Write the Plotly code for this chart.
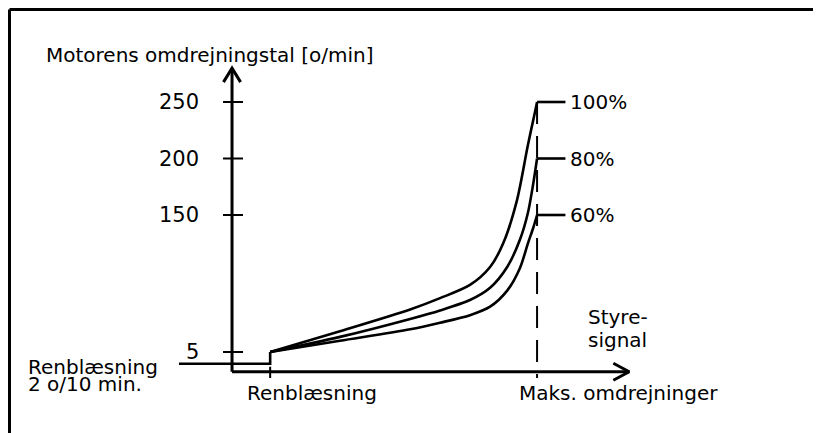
import numpy as np
import plotly.graph_objects as go

# ---------------- data ----------------
levels = ["100%", "80%", "60%"]
level_max_rpm = [250, 200, 150]

signal_100 = [12.5, 35.4, 58.4, 68.2, 78.0, 84.6, 88.9, 93.4, 97.0, 99.3, 100.0]
rpm_100 = [5, 27, 50, 62, 76, 95, 120, 163, 212, 241, 250]

signal_80 = [12.5, 35.4, 58.4, 68.2, 78.0, 84.6, 90.2, 94.4, 97.0, 98.7, 100.0]
rpm_80 = [5, 21, 40, 49, 60, 73, 95, 124, 152, 177, 200]

signal_60 = [12.5, 35.4, 58.4, 68.2, 78.0, 84.6, 90.2, 94.4, 97.0, 98.7, 100.0]
rpm_60 = [5, 17, 29, 36, 44, 53, 70, 94, 120, 136, 150]

y_tick_vals = [5, 150, 200, 250]
y_tick_text = ["5", "150", "200", "250"]

purge_signal = 12.5      # "Renblæsning" position on the control-signal axis
purge_rpm = 2            # 2 o/10 min
purge_label_start = -17.4
max_signal = 100         # "Maks. omdrejninger"
plateau_end = 109.3
x_axis_end = 130.2
y_axis_top_rpm = 280

# broken (schematic) rpm axis: rpm -> display units
RPM_BREAKS = [0, 5, 150, 250, 300]
DISP_BREAKS = [0, 19.7, 156.7, 269.7, 326.2]


def disp(r):
    return np.interp(np.asarray(r, dtype=float), RPM_BREAKS, DISP_BREAKS)


FONT = "DejaVu Sans"
BLACK = "#000000"
LW = 2.6

# page body has an 8px margin -> axis ranges compensate for it
X_RANGE = [-73.44, 195.7]
Y_RANGE = [-69.3, 363.7]

fig = go.Figure()


def line(x, y, width=LW, dash=None, shape="linear"):
    fig.add_trace(go.Scatter(
        x=x, y=y, mode="lines", hoverinfo="skip", showlegend=False,
        line=dict(color=BLACK, width=width, dash=dash, shape=shape, smoothing=0.8),
    ))


# axes
line([0, 0], [0, disp(y_axis_top_rpm)], width=3)
line([0, x_axis_end], [0, 0], width=3)
# arrow heads (size in axis units)
ay = float(disp(y_axis_top_rpm))
line([-2.8, 0, 2.8], [ay - 14, ay, ay - 14], width=3)
line([x_axis_end - 5.2, x_axis_end, x_axis_end - 5.2], [8.5, 0, -8.5], width=3)

# y ticks
for v in y_tick_vals:
    line([-2.95, 3.6], [disp(v), disp(v)], width=2)
# x tick at purge
line([purge_signal, purge_signal], [5, -6.3], width=2)

# dashed max line
line([max_signal, max_signal], [disp(level_max_rpm[0]), -6.3], width=2, dash="22px,12px")

# purge line
line([purge_label_start, purge_signal, purge_signal],
     [disp(purge_rpm), disp(purge_rpm), disp(5)], width=LW)

# curves
for sx, sr in [(signal_100, rpm_100), (signal_80, rpm_80), (signal_60, rpm_60)]:
    line(sx, disp(sr), width=LW, shape="spline")

# plateaus + labels
annotations = []
for lab, r in zip(levels, level_max_rpm):
    line([max_signal, plateau_end], [disp(r), disp(r)], width=LW)
    annotations.append(dict(x=plateau_end + 0.8, y=float(disp(r)), text=lab,
                            xanchor="left", yanchor="middle", showarrow=False,
                            font=dict(size=20, color=BLACK, family=FONT)))

for v, t in zip(y_tick_vals, y_tick_text):
    annotations.append(dict(x=-10.2, y=float(disp(v)), text=t, xanchor="right",
                            yanchor="middle", showarrow=False,
                            font=dict(size=21, color=BLACK, family=FONT)))

texts = [
    ("Motorens omdrejningstal [o/min]", -61.5, 316.7),
    ("Renblæsning", -67.5, 5.0),
    ("2 o/10 min.", -67.5, -12.0),
    ("Renblæsning", 4.4, -21.3),
    ("Maks. omdrejninger", 93.3, -21.3),
    ("Styre-", 116.2, 54.7),
    ("signal", 116.2, 31.7),
]
for t, x, y in texts:
    annotations.append(dict(x=x, y=y, text=t, xanchor="left", yanchor="middle",
                            showarrow=False,
                            font=dict(size=20, color=BLACK, family=FONT)))

fig.update_layout(
    width=821, height=433,
    margin=dict(l=0, r=0, t=0, b=0),
    paper_bgcolor="white", plot_bgcolor="white",
    xaxis=dict(range=X_RANGE, visible=False, fixedrange=True),
    yaxis=dict(range=Y_RANGE, visible=False, fixedrange=True),
    annotations=annotations,
    shapes=[
        dict(type="line", xref="paper", yref="paper", x0=1.5 / 821, x1=1,
             y0=1 - 1.5 / 433, y1=1 - 1.5 / 433, line=dict(color=BLACK, width=3)),
        dict(type="line", xref="paper", yref="paper", x0=1.5 / 821, x1=1.5 / 821,
             y0=0, y1=1 - 1.5 / 433, line=dict(color=BLACK, width=3)),
    ],
)

fig.write_html("out.html")
